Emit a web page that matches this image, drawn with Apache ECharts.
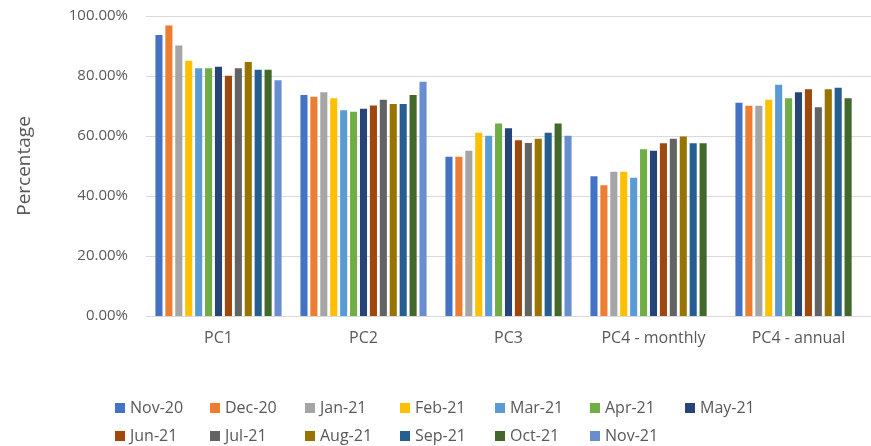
<!DOCTYPE html>
<html>
<head>
<meta charset="utf-8">
<script src="https://cdn.jsdelivr.net/npm/echarts@6/dist/echarts.min.js"></script>
<style>
  html, body { margin: 0; padding: 0; background: #fff; }
  #main { width: 871px; height: 446px; }
</style>
</head>
<body>
<div id="main"></div>
<script>
// categories and months
var categories = ['PC1', 'PC2', 'PC3', 'PC4 - monthly', 'PC4 - annual'];
var months = ['Nov-20', 'Dec-20', 'Jan-21', 'Feb-21', 'Mar-21', 'Apr-21', 'May-21',
  'Jun-21', 'Jul-21', 'Aug-21', 'Sep-21', 'Oct-21', 'Nov-21'];
var colors = ['#4472C4', '#ED7D31', '#A5A5A5', '#FFC000', '#5B9BD5', '#70AD47', '#264478',
  '#9E480E', '#636363', '#997300', '#255E91', '#43682B', '#698ED0'];

// values in percent, one array per category (month order)
var pc1 = [93.7, 96.8, 90.2, 85.1, 82.6, 82.6, 83.1, 80.1, 82.6, 84.7, 82.1, 82.1, 78.6];
var pc2 = [73.7, 73.1, 74.6, 72.6, 68.6, 68.1, 69.1, 70.2, 72.1, 70.7, 70.7, 73.7, 78.1];
var pc3 = [53.1, 53.1, 55.1, 61.1, 60.1, 64.2, 62.6, 58.6, 57.7, 59.1, 61.1, 64.2, 60.1];
var pc4Monthly = [46.6, 43.6, 48.1, 48.1, 46.1, 55.6, 55.1, 57.6, 59.1, 59.8, 57.6, 57.6, null];
var pc4Annual = [71.1, 70.1, 70.1, 72.1, 77.1, 72.6, 74.6, 75.6, 69.6, 75.6, 76.1, 72.6, null];

var groups = [pc1, pc2, pc3, pc4Monthly, pc4Annual];

var series = months.map(function (m, i) {
  return {
    name: m,
    type: 'bar',
    barGap: '40%',
    barCategoryGap: '13%',
    itemStyle: { color: colors[i] },
    data: groups.map(function (g) { return g[i]; })
  };
});

// two legend rows, like the original
function legendRow(names, top) {
  return {
    data: names,
    left: 110,
    top: top,
    itemWidth: 10,
    itemHeight: 10,
    itemGap: 10,
    icon: 'rect',
    formatter: '{a|{name}}',
    textStyle: {
      rich: { a: { width: 70, fontSize: 16, lineHeight: 18, color: '#595959' } }
    }
  };
}

var chart = echarts.init(document.getElementById('main'));
chart.setOption({
  animation: false,
  textStyle: { fontFamily: 'Open Sans' },
  grid: { left: 146, right: -7, top: 16, bottom: 130 },
  legend: [legendRow(months.slice(0, 7), 395), legendRow(months.slice(7), 423)],
  xAxis: {
    type: 'category',
    data: categories,
    axisTick: { show: false },
    axisLine: { lineStyle: { color: '#d9d9d9' } },
    axisLabel: { color: '#595959', fontSize: 16, margin: 14 }
  },
  yAxis: {
    type: 'value',
    min: 0,
    max: 100,
    interval: 20,
    name: 'Percentage',
    nameLocation: 'middle',
    nameGap: 112,
    nameTextStyle: { color: '#595959', fontSize: 19 },
    axisLine: { show: false },
    axisTick: { show: false },
    splitLine: { lineStyle: { color: '#d9d9d9' } },
    axisLabel: {
      color: '#595959',
      fontSize: 15,
      margin: 18,
      formatter: function (v) { return v.toFixed(2) + '%'; }
    }
  },
  series: series
});
</script>
</body>
</html>
